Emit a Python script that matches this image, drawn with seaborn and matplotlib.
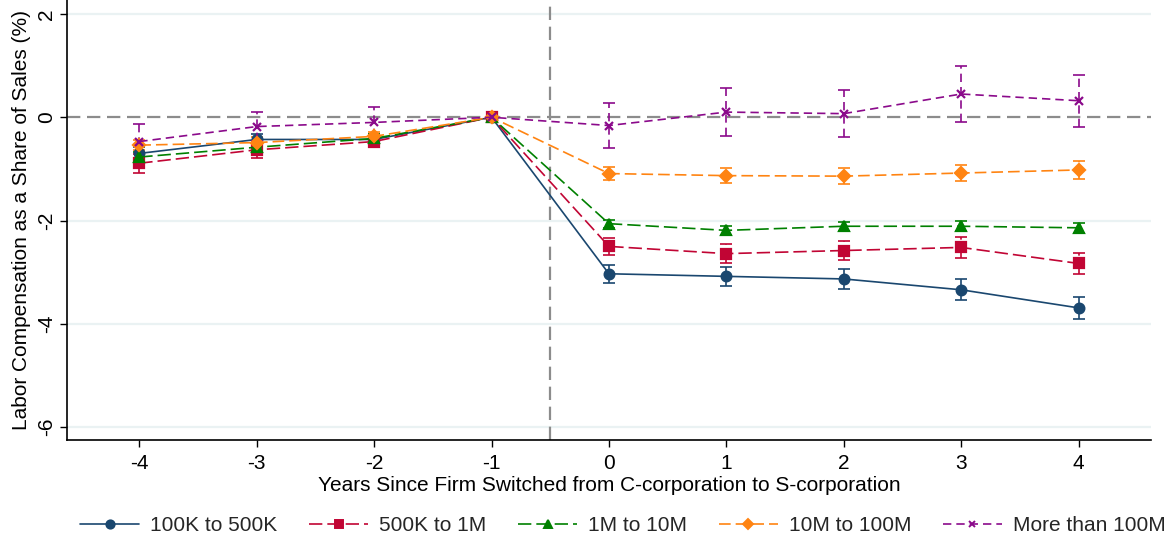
import numpy as np
import pandas as pd
import matplotlib
matplotlib.use("Agg")
import matplotlib.pyplot as plt
import seaborn as sns
from matplotlib.lines import Line2D

years = [-4, -3, -2, -1, 0, 1, 2, 3, 4]
series_names = ["100K to 500K", "500K to 1M", "1M to 10M", "10M to 100M", "More than 100M"]

est_100k_500k = [-0.70, -0.43, -0.43, 0.0, -3.03, -3.08, -3.13, -3.34, -3.69]
ci_100k_500k = [0.12, 0.11, 0.10, 0.0, 0.17, 0.18, 0.19, 0.20, 0.22]

est_500k_1m = [-0.89, -0.63, -0.47, 0.0, -2.50, -2.64, -2.58, -2.52, -2.83]
ci_500k_1m = [0.18, 0.15, 0.10, 0.0, 0.16, 0.18, 0.18, 0.20, 0.21]

est_1m_10m = [-0.77, -0.58, -0.41, 0.0, -2.06, -2.19, -2.11, -2.11, -2.14]
ci_1m_10m = [0.10, 0.09, 0.08, 0.0, 0.08, 0.08, 0.09, 0.10, 0.10]

est_10m_100m = [-0.54, -0.49, -0.37, 0.0, -1.09, -1.13, -1.14, -1.08, -1.02]
ci_10m_100m = [0.10, 0.10, 0.09, 0.0, 0.13, 0.14, 0.15, 0.16, 0.18]

est_100m_plus = [-0.47, -0.18, -0.10, 0.0, -0.16, 0.10, 0.07, 0.45, 0.32]
ci_100m_plus = [0.33, 0.28, 0.29, 0.0, 0.44, 0.47, 0.45, 0.55, 0.50]

estimates = [est_100k_500k, est_500k_1m, est_1m_10m, est_10m_100m, est_100m_plus]
cis = [ci_100k_500k, ci_500k_1m, ci_1m_10m, ci_10m_100m, ci_100m_plus]

colors = ["#1a476f", "#c10534", "#008000", "#ff8412", "#8b0a8b"]
markers = ["o", "s", "^", "D", "x"]
dash_styles = [None, (8, 3), (8, 3), (7, 3), (5, 3)]
msizes = [7, 6.5, 7.5, 6.5, 5.5]

rows = []
for name, est, ci in zip(series_names, estimates, cis):
    for yr, e, c in zip(years, est, ci):
        rows.append({"year": yr, "est": e, "ci": c, "group": name})
df = pd.DataFrame(rows)

sns.set_theme(style="white")
plt.rcParams["font.family"] = ["Liberation Sans", "DejaVu Sans"]

fig = plt.figure(figsize=(11.71, 5.42), dpi=100)
ax = fig.add_axes([0.0572, 0.188, 0.9258, 0.812])

# gridlines
for yv in [2, -2, -4, -6]:
    ax.axhline(yv, color="#eaf2f3", lw=1.6, zorder=0)
ax.axhline(0, color="#8c8c8c", lw=1.6, ls=(0, (6, 3)), zorder=1)
ax.axvline(-0.5, color="#8c8c8c", lw=1.6, ls=(0, (6, 3)), zorder=1)

for i, name in enumerate(series_names):
    sub = df[df["group"] == name]
    ls = "-" if dash_styles[i] is None else (0, dash_styles[i])
    eb = ax.errorbar(sub["year"], sub["est"], yerr=sub["ci"], fmt="none",
                     ecolor=colors[i], elinewidth=1.2, capsize=4.5, capthick=1.2,
                     zorder=2 + i)
    eb[2][0].set_linestyle(ls)
    sns.lineplot(data=sub, x="year", y="est", color=colors[i],
                 marker=markers[i], markersize=msizes[i], markeredgewidth=1.6,
                 markeredgecolor=colors[i], markerfacecolor=colors[i],
                 linewidth=1.2, ax=ax, legend=False, zorder=6 + i,
                 estimator=None)
    line = ax.get_lines()[-1]
    if dash_styles[i] is not None:
        line.set_linestyle((0, dash_styles[i]))

ax.set_xlim(-4.616, 4.618)
ax.set_ylim(-6.25, 2.27)
ax.set_xticks(years)
ax.set_xticklabels([str(y) for y in years])
ax.set_yticks([2, 0, -2, -4, -6])
ax.set_yticklabels(["2", "0", "-2", "-4", "-6"], rotation=90, va="center")

for s in ["top", "right"]:
    ax.spines[s].set_visible(False)
for s in ["left", "bottom"]:
    ax.spines[s].set_color("black")
    ax.spines[s].set_linewidth(1.2)

ax.tick_params(axis="both", which="major", direction="out", length=5, width=1,
               color="black", labelsize=15, labelcolor="black", pad=5,
               bottom=True, left=True)
ax.tick_params(axis="y", pad=3)

ax.set_xlabel("Years Since Firm Switched from C-corporation to S-corporation",
              fontsize=15, color="black", labelpad=2)
ax.set_ylabel("Labor Compensation as a Share of Sales (%)", fontsize=15,
              color="black", labelpad=4)

handles = []
for i, name in enumerate(series_names):
    ls = "-" if dash_styles[i] is None else (0, dash_styles[i])
    handles.append(Line2D([0], [0], color=colors[i], lw=1.2, ls=ls,
                          marker=markers[i], markersize=msizes[i] * 0.85,
                          markerfacecolor=colors[i], markeredgecolor=colors[i],
                          markeredgewidth=1.4))
fig.legend(handles=handles, labels=series_names, loc="center",
           bbox_to_anchor=(0.532, 0.03), ncol=5, frameon=False, fontsize=15,
           handlelength=2.85, columnspacing=1.5, handletextpad=0.53)

fig.savefig("out.png", dpi=100)
